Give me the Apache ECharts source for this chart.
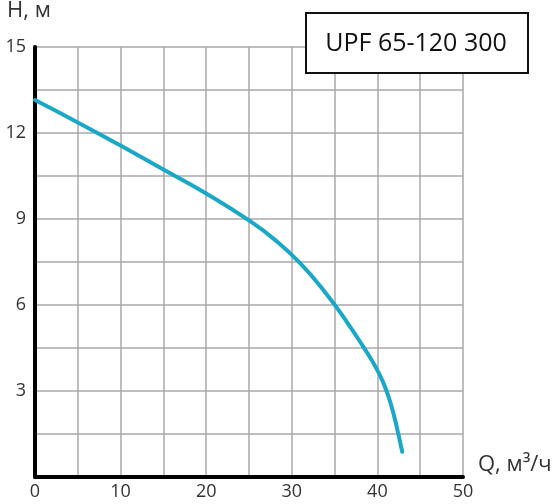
<!DOCTYPE html>
<html>
<meta charset="UTF-8">
<title>UPF 65-120 300</title>
<style type="text/css">
    html,
    body {
        margin: 0px;
        height: 100%;
        width: 100%;
        background: #fff;
    }

    #chart {
        width: 560px;
        height: 504px;
    }
</style>
<script src="https://cdn.jsdelivr.net/npm/echarts@6/dist/echarts.min.js"></script>

<body>
    <div id="chart"></div>
    <script>
        // pump curve
        const flow = [0, 5, 10, 15, 20, 25, 28, 31, 34, 36.5, 38.4, 39.2, 40, 40.6, 41.3, 42, 42.45, 42.9];
        const head = [13.15, 12.37, 11.56, 10.73, 9.89, 8.95, 8.28, 7.45, 6.4, 5.38, 4.52, 4.14, 3.72, 3.35, 2.8, 2.07, 1.49, 0.88];
        const modelName = 'UPF 65-120 300';

        const font = '"Open Sans", sans-serif';
        const chart = echarts.init(document.querySelector('#chart'));

        const options = {
            animation: false,
            grid: { left: 35, right: 97, top: 47, bottom: 27 },
            xAxis: {
                type: 'value',
                min: 0,
                max: 50,
                interval: 5,
                axisLine: { lineStyle: { color: '#000', width: 4 } },
                axisTick: { show: false },
                axisLabel: {
                    color: '#333', fontSize: 18, fontFamily: font, margin: 6,
                    formatter: v => (v % 10 === 0 ? String(v) : '')
                },
                splitLine: { show: true, lineStyle: { color: '#a8a8a8', width: 1.5 } }
            },
            yAxis: {
                type: 'value',
                min: 0,
                max: 15,
                interval: 1.5,
                axisLine: { show: true, lineStyle: { color: '#000', width: 4 } },
                axisTick: { show: false },
                axisLabel: {
                    color: '#333', fontSize: 18, fontFamily: font, margin: 9,
                    formatter: v => (v > 0 && Math.abs(v % 3) < 1e-6 ? String(Math.round(v)) : '')
                },
                splitLine: { show: true, lineStyle: { color: '#a8a8a8', width: 1.5 } }
            },
            series: [{
                type: 'line',
                smooth: 0.5,
                symbol: 'none',
                lineStyle: { color: '#1ba8c8', width: 4, cap: 'round' },
                data: flow.map((q, i) => [q, head[i]])
            }],
            graphic: [
                {
                    type: 'text', left: 7, top: 0,
                    style: { text: 'H, м', fontSize: 22, fontFamily: font, fill: '#333' }
                },
                {
                    type: 'text', left: 478, top: 454,
                    style: { text: 'Q, м³/ч', fontSize: 22, fontFamily: font, fill: '#333' }
                },
                {
                    type: 'rect', z: 100,
                    shape: { x: 306, y: 13, width: 222, height: 60 },
                    style: { fill: '#fff', stroke: '#111', lineWidth: 2 }
                },
                {
                    type: 'text', z: 101, x: 416, y: 44,
                    style: {
                        text: modelName, fontSize: 25, fontFamily: font, fill: '#111',
                        align: 'center', verticalAlign: 'middle'
                    }
                }
            ]
        };
        chart.setOption(options);
    </script>
</body>

</html>
